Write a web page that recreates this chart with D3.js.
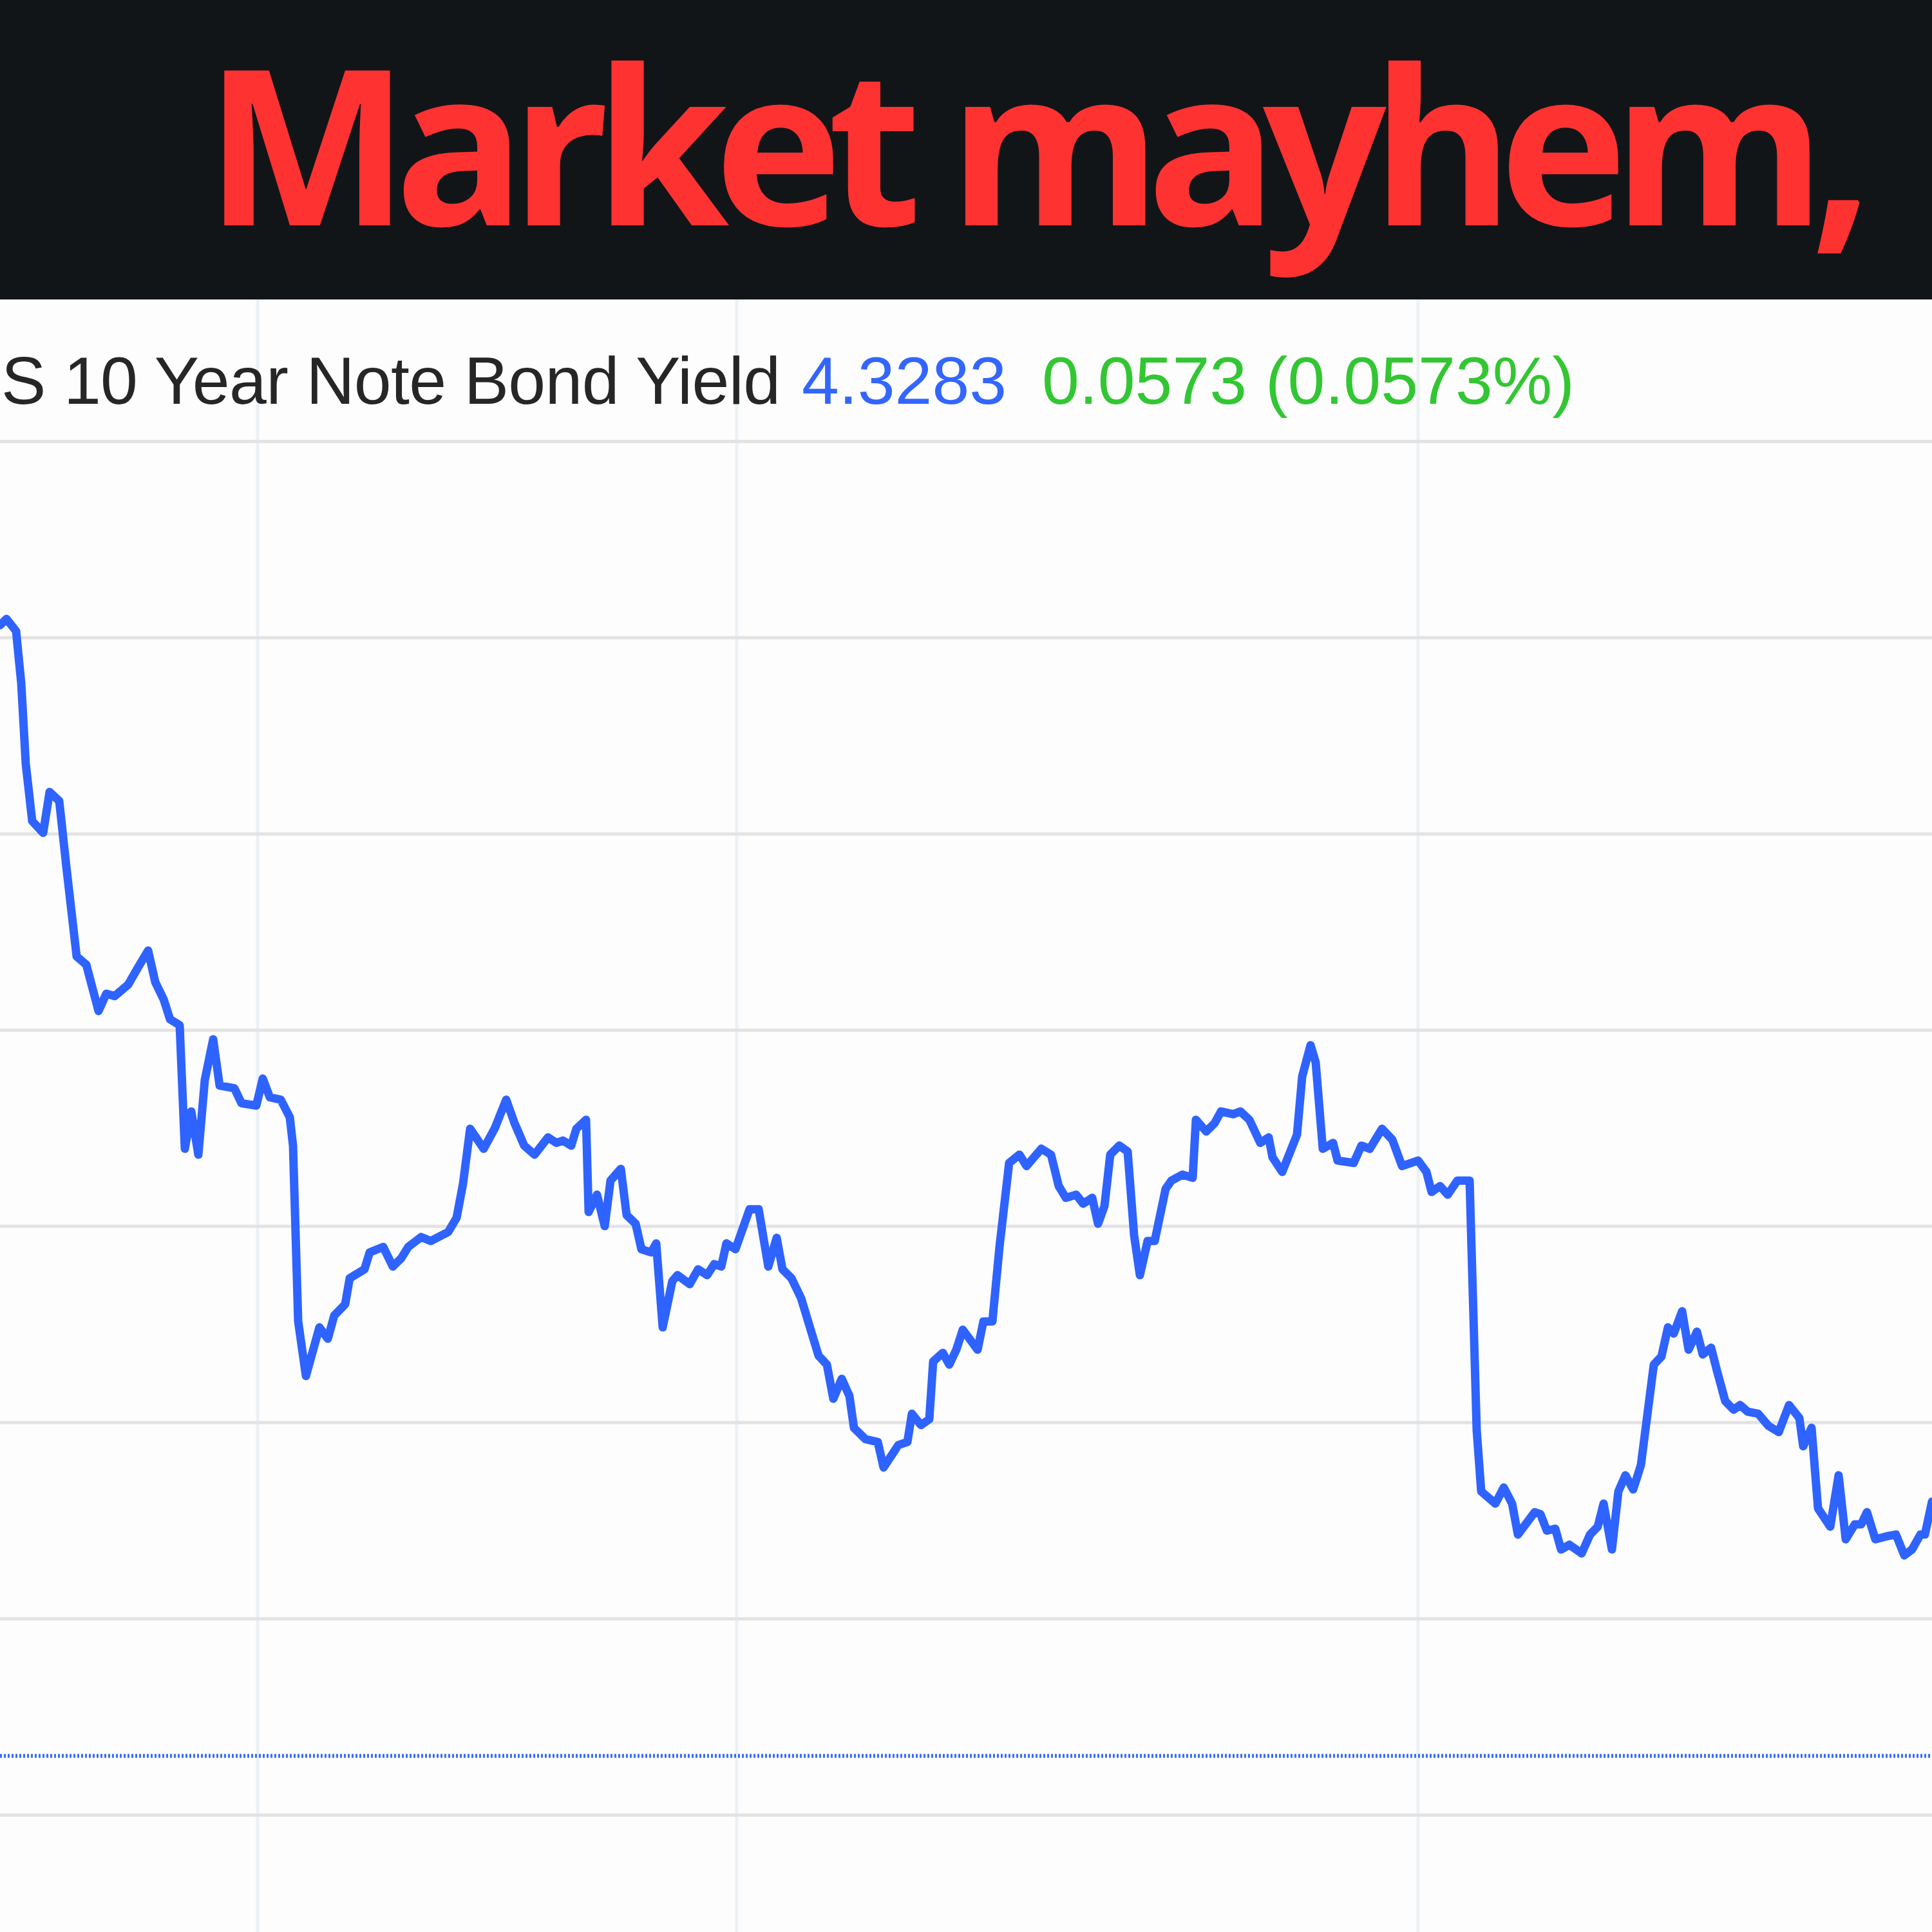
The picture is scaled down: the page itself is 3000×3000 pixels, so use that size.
<!DOCTYPE html>
<html>
<head>
<meta charset="utf-8">
<script src="https://cdn.jsdelivr.net/npm/d3@7"></script>
<style>
  html, body { margin: 0; padding: 0; background: #fdfdfd; }
  svg { display: block; }
</style>
</head>
<body>
<svg id="chart" width="3000" height="3000"></svg>
<script>
// ---------- DATA ----------
const headline = "Market mayhem,";
const seriesName = "S 10 Year Note Bond Yield";
const lastValue = "4.3283";
const changeText = "0.0573 (0.0573%)";
const previousClose = 4.265;

// time (minutes from start of visible window)
const times = [
  0, 1, 2.5, 3.3, 4, 5, 6.7, 7.7, 9.2, 10.3,
  11.9, 13.4, 15.3, 16.5, 17.8, 19.9, 21.4, 23, 24.1, 25.4,
  26.4, 27.9, 28.7, 29.7, 30.8, 31.8, 33.1, 34.1, 36.4, 37.5,
  39.8, 40.8, 41.9, 43.6, 45, 45.5, 46.3, 47.5, 49.6, 50.9,
  51.9, 53.6, 54.3, 56.6, 57.4, 59.5, 61, 62.3, 63.4, 65.4,
  66.9, 69.6, 70.9, 71.9, 73, 75.1, 76.8, 78.6, 79.9, 81.4,
  83, 85.1, 86.4, 87.4, 88.7, 89.5, 91, 91.4, 92.7, 93.9,
  94.8, 96.4, 97.3, 98.7, 99.6, 101.1, 101.9, 102.9, 104.4, 105.2,
  107.1, 108.4, 109.8, 110.9, 112, 112.8, 114.2, 116.4, 117.8, 119.3,
  120.6, 121.5, 122.9, 124.4, 127.1, 128.4, 129.4, 130.7, 131.9, 132.6,
  134.4, 136.3, 137.2, 139.5, 140.9, 141.6, 143, 144.3, 144.9, 146.4,
  147.4, 148.5, 149.5, 151.8, 152.7, 154.1, 155.2, 156.7, 158.3, 159.4,
  161.7, 163.2, 164.4, 165.5, 167.1, 168.2, 169.6, 170.5, 171.5, 172.4,
  173.8, 175.1, 176.1, 177, 178.2, 179.3, 181, 181.9, 183.6, 185.2,
  185.7, 187.3, 188.6, 189.6, 191.5, 192.6, 194, 195.7, 197, 197.6,
  199.1, 201.4, 202.2, 203.5, 204.3, 205.4, 207, 207.7, 210.2, 211.4,
  212.7, 214.6, 216.2, 217.7, 220.2, 221.5, 222.3, 223.6, 224.8, 226.3,
  228.2, 229.3, 230, 232.2, 233.5, 234.8, 235.7, 238.3, 239.2, 240.2,
  241.5, 242.4, 243.7, 245.6, 246.9, 248.1, 249, 250.3, 251.3, 252.4,
  253.6, 254.8, 256.8, 258, 259, 259.9, 261.2, 262.2, 263.5, 264.4,
  265.7, 266.6, 267.9, 269.2, 270.2, 271.4, 273, 274.6, 276.2, 277.8,
  279.4, 280, 281.3, 282.3, 284.2, 285.5, 286.6, 288, 289, 289.9,
  291.2, 292.8, 294.4, 295.7, 296.9, 298.2, 298.9, 300
];

// yield (%)
const yields = [
  4.5531, 4.5547, 4.5516, 4.5383, 4.5178, 4.5032, 4.5002, 4.5106, 4.5083, 4.4916,
  4.4687, 4.4666, 4.4548, 4.4592, 4.4586, 4.4615, 4.4658, 4.4702, 4.4622, 4.4578,
  4.4527, 4.4512, 4.4197, 4.4292, 4.4182, 4.4372, 4.4476, 4.4358, 4.4351, 4.4313,
  4.4307, 4.4376, 4.4328, 4.4322, 4.4277, 4.4205, 4.3757, 4.3618, 4.3742, 4.3713,
  4.3772, 4.3801, 4.3867, 4.3890, 4.3933, 4.3947, 4.3897, 4.3918, 4.3947, 4.3972,
  4.3962, 4.3985, 4.4021, 4.4108, 4.4248, 4.4197, 4.4248, 4.4322, 4.4262, 4.4205,
  4.4182, 4.4226, 4.4212, 4.4218, 4.4205, 4.4248, 4.4271, 4.4036, 4.4080, 4.4000,
  4.4116, 4.4146, 4.4028, 4.4006, 4.3941, 4.3933, 4.3956, 4.3742, 4.3860, 4.3875,
  4.3852, 4.3890, 4.3875, 4.3903, 4.3897, 4.3956, 4.3941, 4.4043, 4.4043, 4.3897,
  4.3970, 4.3890, 4.3867, 4.3816, 4.3670, 4.3647, 4.3560, 4.3611, 4.3567, 4.3486,
  4.3457, 4.3450, 4.3385, 4.3442, 4.3450, 4.3522, 4.3493, 4.3508, 4.3655, 4.3677,
  4.3647, 4.3685, 4.3736, 4.3685, 4.3757, 4.3757, 4.3947, 4.4161, 4.4182, 4.4153,
  4.4197, 4.4182, 4.4102, 4.4072, 4.4080, 4.4057, 4.4072, 4.4006, 4.4051, 4.4182,
  4.4205, 4.4190, 4.3977, 4.3875, 4.3962, 4.3962, 4.4095, 4.4116, 4.4131, 4.4123,
  4.4271, 4.4241, 4.4262, 4.4292, 4.4285, 4.4292, 4.4271, 4.4212, 4.4226, 4.4175,
  4.4138, 4.4233, 4.4381, 4.4461, 4.4417, 4.4197, 4.4212, 4.4167, 4.4161, 4.4205,
  4.4197, 4.4248, 4.4220, 4.4153, 4.4167, 4.4138, 4.4087, 4.4102, 4.4080, 4.4116,
  4.4116, 4.3480, 4.3324, 4.3293, 4.3334, 4.3293, 4.3214, 4.3271, 4.3266, 4.3224,
  4.3229, 4.3176, 4.3188, 4.3166, 4.3214, 4.3234, 4.3293, 4.3176, 4.3324, 4.3365,
  4.3329, 4.3391, 4.3647, 4.3668, 4.3742, 4.3726, 4.3783, 4.3685, 4.3731, 4.3673,
  4.3690, 4.3632, 4.3554, 4.3532, 4.3544, 4.3527, 4.3522, 4.3491, 4.3475, 4.3544,
  4.3511, 4.3439, 4.3486, 4.3281, 4.3234, 4.3365, 4.3202, 4.3240, 4.3240, 4.3271,
  4.3202, 4.3209, 4.3214, 4.3161, 4.3176, 4.3214, 4.3214, 4.3298
];

// horizontal grid values and vertical session markers
const yGridValues = [4.25, 4.30, 4.35, 4.40, 4.45, 4.50, 4.55, 4.60];
const sessionBreaks = [40, 114.4, 220.2];

// ---------- LAYOUT ----------
const W = 3000, H = 3000;
const headerH = 465;
const svg = d3.select("#chart");

const x = d3.scaleLinear().domain([0, 300]).range([0, W]);
const y = d3.scaleLinear().domain([4.25, 4.60]).range([2818, 685]);

const data = times.map((t, i) => ({ t, v: yields[i] }));

svg.append("rect").attr("width", W).attr("height", H).attr("fill", "#fdfdfd");

svg.append("defs").append("clipPath").attr("id", "plotclip")
  .append("rect").attr("x", 0).attr("y", headerH).attr("width", W).attr("height", H - headerH);

// vertical session lines
svg.append("g").selectAll("line").data(sessionBreaks).join("line")
  .attr("x1", d => x(d)).attr("x2", d => x(d))
  .attr("y1", headerH).attr("y2", H)
  .attr("stroke", "#ebf1f5").attr("stroke-width", 5);

// horizontal grid via axis
const grid = svg.append("g")
  .call(d3.axisRight(y).tickValues(yGridValues).tickSize(W).tickFormat(""));
grid.select(".domain").remove();
grid.selectAll(".tick line").attr("stroke", "#e3e3e3").attr("stroke-width", 5);

// previous close dotted line
svg.append("line")
  .attr("x1", 0).attr("x2", W)
  .attr("y1", y(previousClose)).attr("y2", y(previousClose))
  .attr("stroke", "#3a6cf5").attr("stroke-width", 6)
  .attr("stroke-dasharray", "3,3");

// price line
svg.append("path")
  .datum(data)
  .attr("clip-path", "url(#plotclip)")
  .attr("fill", "none")
  .attr("stroke", "#2f63ff")
  .attr("stroke-width", 13)
  .attr("stroke-linejoin", "round")
  .attr("stroke-linecap", "round")
  .attr("d", d3.line().x(d => x(d.t)).y(d => y(d.v)));

// header bar
svg.append("rect").attr("x", 0).attr("y", 0).attr("width", W).attr("height", headerH)
  .attr("fill", "#121518");

const title = svg.append("text")
  .attr("x", 318).attr("y", 350)
  .attr("font-family", "'Open Sans', 'Noto Sans', sans-serif")
  .attr("font-weight", 700)
  .attr("font-size", 337)
  .attr("fill", "#ff3232")
  .text(headline);
// fit title width to target span by letter spacing
{
  const target = 2590;
  const w = title.node().getComputedTextLength();
  const ls = (target - w) / (headline.length - 1);
  title.attr("letter-spacing", ls.toFixed(2));
}

// subtitle
const sub = svg.append("g")
  .attr("font-family", "'Liberation Sans', Arial, Helvetica, sans-serif")
  .attr("font-size", 104);

const nameText = sub.append("text")
  .attr("x", 2).attr("y", 627)
  .attr("fill", "#262626")
  .text(seriesName);
{
  const target = 1210;
  const w = nameText.node().getComputedTextLength();
  const ls = (target - w) / (seriesName.length - 1);
  nameText.attr("letter-spacing", ls.toFixed(2));
}

sub.append("text")
  .attr("x", 1245).attr("y", 627)
  .attr("fill", "#3366ff")
  .text(lastValue);

sub.append("text")
  .attr("x", 1618).attr("y", 627)
  .attr("fill", "#33c633")
  .text(changeText);
</script>
</body>
</html>
